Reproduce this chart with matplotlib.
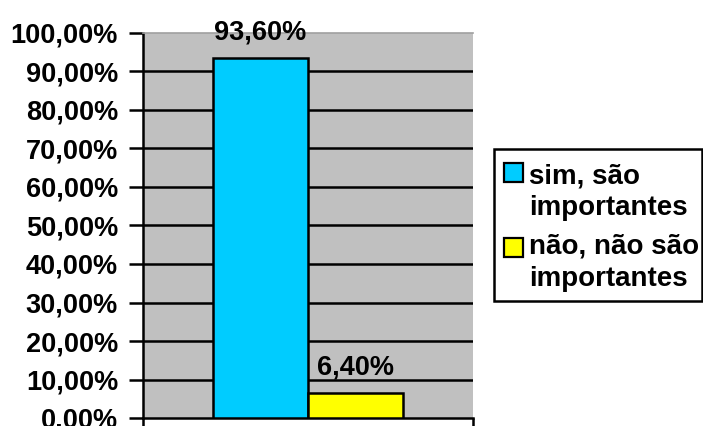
import matplotlib
matplotlib.use("Agg")
import matplotlib.pyplot as plt
from matplotlib.patches import Rectangle

categories = ["sim, são\nimportantes", "não, não são\nimportantes"]
values = [93.60, 6.40]
value_labels = ["93,60%", "6,40%"]
yticks = [0, 10, 20, 30, 40, 50, 60, 70, 80, 90, 100]
ytick_labels = ["0.00%", "10,00%", "20,00%", "30,00%", "40,00%", "50,00%",
                "60,00%", "70,00%", "80,00%", "90,00%", "100,00%"]
colors = ["#00CCFF", "#FFFF00"]

plt.rcParams['font.family'] = ['Liberation Sans', 'DejaVu Sans']
plt.rcParams['font.weight'] = 'bold'

W, H = 703, 426
FS = 19.5
fig = plt.figure(figsize=(W/100, H/100), dpi=100)
ax = fig.add_axes([143/W, (H-418)/H, (473-143)/W, (418-33)/H])
ax.set_facecolor("#C0C0C0")

w = 0.288
xs = [0.5 - w/2, 0.5 + w/2]
for x, v, c, lab in zip(xs, values, colors, value_labels):
    ax.bar(x, v, width=w, color=c, edgecolor="black", linewidth=1.8, zorder=3)
    ax.text(x, v + 4.8, lab, ha="center", va="baseline", fontsize=FS,
            fontweight="bold", zorder=4, clip_on=False)

ax.set_xlim(0, 1)
ax.set_ylim(0, 100)
ax.set_yticks(yticks)
ax.set_yticklabels(ytick_labels, fontsize=FS, fontweight="bold")
ax.set_xticks([0, 1])
ax.set_xticklabels([])
for y in yticks[1:-1]:
    ax.axhline(y, color="black", linewidth=1.8, zorder=1)

ax.tick_params(axis="y", direction="out", length=10, width=1.8, pad=8)
ax.tick_params(axis="x", direction="out", length=10, width=1.8)
for s in ["left", "bottom"]:
    ax.spines[s].set_linewidth(1.8)
    ax.spines[s].set_color("black")
ax.spines["right"].set_visible(False)
ax.spines["top"].set_color("#A0A0A0")
ax.spines["top"].set_linewidth(1.2)

# legend drawn manually (pixel layout in figure coords)
def fx(px):
    return px / W
def fy(py):
    return 1 - py / H

fig.patches.append(Rectangle((fx(494), fy(301)), fx(702) - fx(494), fy(149) - fy(301),
                             transform=fig.transFigure, facecolor="white",
                             edgecolor="black", linewidth=1.8, zorder=5))
for i, (c, lab) in enumerate(zip(colors, categories)):
    top = 163 + i * 75
    fig.patches.append(Rectangle((fx(504), fy(top + 19)), fx(523) - fx(504), fy(top) - fy(top + 19),
                                 transform=fig.transFigure, facecolor=c,
                                 edgecolor="black", linewidth=1.6, zorder=6))
    base = 183 + i * 71
    for j, line in enumerate(lab.split("\n")):
        fig.text(fx(529), fy(base + j * 32), line, ha="left", va="baseline",
                 fontsize=20.0, fontweight="bold", zorder=7)

fig.savefig("out.png", dpi=100)
